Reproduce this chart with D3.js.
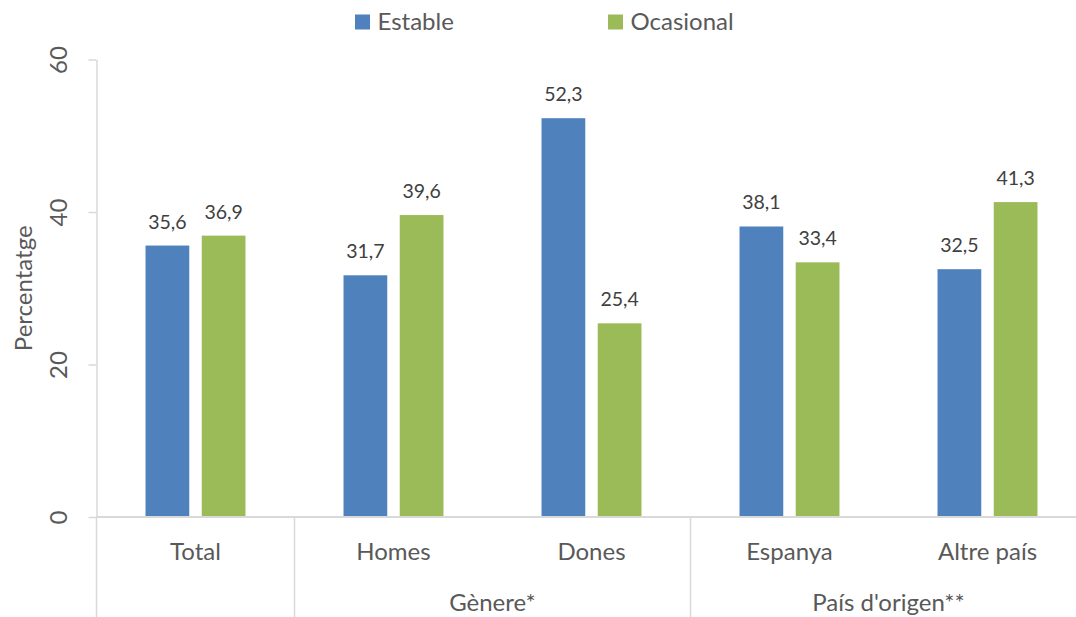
<!DOCTYPE html>
<html>
<head>
<meta charset="utf-8">
<script src="https://cdn.jsdelivr.net/npm/d3@7"></script>
<style>
  html, body { margin: 0; padding: 0; background: #ffffff; }
  svg { display: block; font-family: Lato, "Open Sans", sans-serif; }
</style>
</head>
<body>
<svg id="chart" width="1076" height="617"></svg>
<script>
// Categories and values (percentatge)
const categories = ["Total", "Homes", "Dones", "Espanya", "Altre país"];
const estable    = [35.6, 31.7, 52.3, 38.1, 32.5];
const ocasional  = [36.9, 39.6, 25.4, 33.4, 41.3];
const seriesNames = ["Estable", "Ocasional"];
const seriesColors = ["#4F81BD", "#9BBB59"];
const yTicks = [0, 20, 40, 60];
const groupNames = ["", "Gènere*", "País d'origen**"];
const groupMembers = [["Total"], ["Homes", "Dones"], ["Espanya", "Altre país"]];

const fmt = v => v.toFixed(1).replace(".", ",");

const svg = d3.select("#chart");
const W = 1076, H = 617;
const plot = { left: 96.5, right: 1086.5, top: 59.5, bottom: 517 };

const x0 = d3.scaleBand().domain(categories).range([plot.left, plot.right]).padding(0);
const x1 = d3.scaleBand().domain(seriesNames).range([0, x0.bandwidth()])
  .paddingInner(0.222).paddingOuter(0.872);
const y = d3.scaleLinear().domain([0, 60]).range([plot.bottom, plot.top]);

const axisColor = "#D9D9D9";
const textColor = "#595959";
const fontSize = 24;

// Rows of values per category
const rows = categories.map((c, i) => ({
  cat: c,
  vals: [
    { s: seriesNames[0], v: estable[i], color: seriesColors[0] },
    { s: seriesNames[1], v: ocasional[i], color: seriesColors[1] }
  ]
}));

// Bars
const g = svg.append("g");
const cg = g.selectAll("g.cat").data(rows).join("g")
  .attr("class", "cat")
  .attr("transform", d => `translate(${x0(d.cat)},0)`);

cg.selectAll("rect").data(d => d.vals).join("rect")
  .attr("x", d => x1(d.s))
  .attr("y", d => y(d.v))
  .attr("width", x1.bandwidth())
  .attr("height", d => y(0) - y(d.v))
  .attr("fill", d => d.color);

// Data labels
cg.selectAll("text.val").data(d => d.vals).join("text")
  .attr("class", "val")
  .attr("x", d => x1(d.s) + x1.bandwidth() / 2)
  .attr("y", d => y(d.v) - 17)
  .attr("text-anchor", "middle")
  .attr("font-size", 19.5)
  .attr("fill", "#404040")
  .text(d => fmt(d.v));

// Y axis
const yAxis = d3.axisLeft(y).tickValues(yTicks).tickSize(8).tickSizeOuter(0).tickFormat(d3.format("d"));
const ya = svg.append("g").attr("transform", `translate(${plot.left},0)`).call(yAxis);
ya.select(".domain").attr("stroke", axisColor).attr("stroke-width", 1.5);
ya.selectAll(".tick line").attr("stroke", axisColor).attr("stroke-width", 1.5);
ya.selectAll(".tick text")
  .attr("x", null).attr("dy", null)
  .attr("transform", "translate(-30,0) rotate(-90)")
  .attr("text-anchor", "middle")
  .attr("font-size", fontSize)
  .attr("font-family", "Lato, 'Open Sans', sans-serif")
  .attr("fill", textColor);

// Category axis baseline
svg.append("line")
  .attr("x1", plot.left).attr("x2", plot.right)
  .attr("y1", y(0)).attr("y2", y(0))
  .attr("stroke", axisColor).attr("stroke-width", 2);

// Group separators spanning both label rows
const sepX = groupMembers.map(m => x0(m[0])).concat([plot.right]);
svg.selectAll("line.sep").data(sepX).join("line")
  .attr("class", "sep")
  .attr("x1", d => d).attr("x2", d => d)
  .attr("y1", y(0)).attr("y2", H)
  .attr("stroke", axisColor).attr("stroke-width", 1.5);

// Category labels
svg.selectAll("text.cat").data(categories).join("text")
  .attr("class", "cat")
  .attr("x", d => x0(d) + x0.bandwidth() / 2)
  .attr("y", 560)
  .attr("text-anchor", "middle")
  .attr("font-size", fontSize)
  .attr("fill", textColor)
  .text(d => d);

// Group labels
svg.selectAll("text.grp").data(groupNames.map((n, i) => ({ n, m: groupMembers[i] })).filter(d => d.n)).join("text")
  .attr("class", "grp")
  .attr("x", d => (x0(d.m[0]) + x0(d.m[d.m.length - 1]) + x0.bandwidth()) / 2)
  .attr("y", 611)
  .attr("text-anchor", "middle")
  .attr("font-size", fontSize)
  .attr("fill", textColor)
  .text(d => d.n);

// Y axis title
svg.append("text")
  .attr("transform", `translate(32,${(plot.top + plot.bottom) / 2}) rotate(-90)`)
  .attr("text-anchor", "middle")
  .attr("font-size", fontSize)
  .attr("fill", textColor)
  .text("Percentatge");

// Legend
const legendX = [355, 608];
const leg = svg.selectAll("g.leg").data(seriesNames).join("g")
  .attr("class", "leg")
  .attr("transform", (d, i) => `translate(${legendX[i]},14.5)`);
leg.append("rect").attr("width", 15).attr("height", 15)
  .attr("fill", (d, i) => seriesColors[i]);
leg.append("text").attr("x", 22.5).attr("y", 15)
  .attr("font-size", fontSize)
  .attr("fill", textColor)
  .text(d => d);
</script>
</body>
</html>
